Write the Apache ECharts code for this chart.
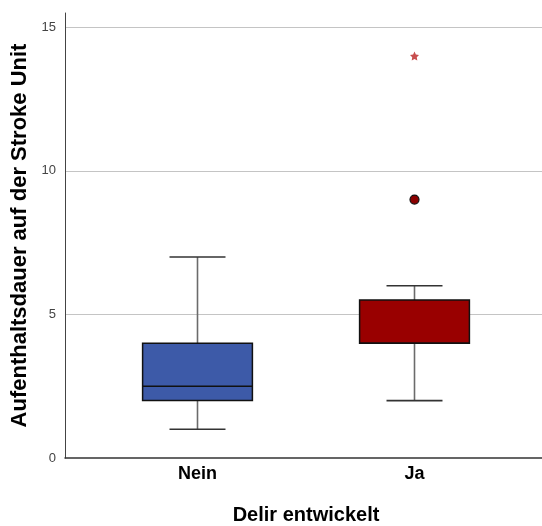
<!DOCTYPE html>
<html>
<head>
<meta charset="utf-8">
<script src="https://cdn.jsdelivr.net/npm/echarts@6/dist/echarts.min.js"></script>
<style>
  html, body { margin: 0; padding: 0; background: #fff; }
  #chart { width: 542px; height: 526px; }
</style>
</head>
<body>
<div id="chart"></div>
<script>
// Boxplot data
const categories = ['Nein', 'Ja'];
const whiskerLow = [1, 2];
const quartile1 = [2, 4];
const medians = [2.5, 4];
const quartile3 = [4, 5.5];
const whiskerHigh = [7, 6];
const outliers = [[1, 9]];     // circle
const extremes = [[1, 14]];    // star
const yTicks = [0, 5, 10, 15];

const boxColors = ['#3d5aa8', '#990000'];
const font = '"Liberation Sans", Arial, sans-serif';
const starPath = 'path://M0,-10 L2.9,-4 9.5,-3.1 4.8,1.5 5.9,8.1 0,5 -5.9,8.1 -4.8,1.5 -9.5,-3.1 -2.9,-4 Z';

const boxData = categories.map((c, i) =>
  [i, whiskerLow[i], quartile1[i], medians[i], quartile3[i], whiskerHigh[i]]);

const chart = echarts.init(document.getElementById('chart'));

function renderBox(params, api) {
  const idx = api.value(0);
  const band = api.size([1, 0])[0];
  const lo = api.coord([idx, api.value(1)]);
  const q1 = api.coord([idx, api.value(2)]);
  const med = api.coord([idx, api.value(3)]);
  const q3 = api.coord([idx, api.value(4)]);
  const hi = api.coord([idx, api.value(5)]);
  const x = lo[0];
  const boxHalf = band * 0.253;
  const capHalf = band * 0.129;
  const stem = { stroke: '#6b6b6b', lineWidth: 1.6 };
  const cap = { stroke: '#333', lineWidth: 1.6 };
  return {
    type: 'group',
    children: [
      { type: 'line', shape: { x1: x, y1: hi[1], x2: x, y2: q3[1] }, style: stem },
      { type: 'line', shape: { x1: x, y1: q1[1], x2: x, y2: lo[1] }, style: stem },
      { type: 'line', shape: { x1: x - capHalf, y1: hi[1], x2: x + capHalf, y2: hi[1] }, style: cap },
      { type: 'line', shape: { x1: x - capHalf, y1: lo[1], x2: x + capHalf, y2: lo[1] }, style: cap },
      {
        type: 'rect',
        shape: { x: x - boxHalf, y: q3[1], width: boxHalf * 2, height: q1[1] - q3[1] },
        style: { fill: boxColors[params.dataIndex], stroke: '#111', lineWidth: 1.5 }
      },
      { type: 'line', shape: { x1: x - boxHalf, y1: med[1], x2: x + boxHalf, y2: med[1] },
        style: { stroke: '#111', lineWidth: 1.5 } }
    ]
  };
}

chart.setOption({
  animation: false,
  backgroundColor: '#fff',
  grid: [
    { left: 65, right: 0, top: 13, bottom: 68, outerBoundsMode: 'none' },
    { left: 89, right: 19, top: 13, bottom: 68, outerBoundsMode: 'none' }
  ],
  xAxis: [
    {
      gridIndex: 0, type: 'value', min: 0, max: 1,
      axisLine: { lineStyle: { color: '#333', width: 1.5 } },
      axisTick: { show: false }, axisLabel: { show: false }, splitLine: { show: false }
    },
    {
      gridIndex: 1, type: 'category', data: categories,
      axisLine: { show: false }, axisTick: { show: false },
      axisLabel: { margin: 7, color: '#000', fontSize: 18, fontWeight: 'bold', fontFamily: font },
      name: 'Delir entwickelt', nameLocation: 'middle', nameGap: 47,
      nameTextStyle: { color: '#000', fontSize: 20, fontWeight: 'bold', fontFamily: font }
    }
  ],
  yAxis: [
    {
      gridIndex: 0, type: 'value', min: 0, max: 15.5, interval: 5,
      axisLine: { show: true, lineStyle: { color: '#444', width: 1 } },
      axisTick: { show: false },
      axisLabel: {
        margin: 9, color: '#444', fontSize: 13, fontFamily: font, showMaxLabel: false,
        formatter: v => (yTicks.indexOf(v) >= 0 ? String(v) : '')
      },
      splitLine: { show: true, showMinLine: false, showMaxLine: false, lineStyle: { color: '#c4c4c4', width: 1 } },
      name: 'Aufenthaltsdauer auf der Stroke Unit', nameLocation: 'middle', nameGap: 33,
      nameTextStyle: { color: '#000', fontSize: 22, fontWeight: 'bold', fontFamily: font }
    },
    {
      gridIndex: 1, type: 'value', min: 0, max: 15.5, show: false
    }
  ],
  series: [
    {
      type: 'custom', xAxisIndex: 1, yAxisIndex: 1,
      data: boxData,
      encode: { x: 0, y: [1, 2, 3, 4, 5] },
      renderItem: renderBox
    },
    {
      type: 'scatter', xAxisIndex: 1, yAxisIndex: 1,
      data: outliers, symbol: 'circle', symbolSize: 9,
      itemStyle: { color: '#8b0000', borderColor: '#111', borderWidth: 1.2, opacity: 1 }
    },
    {
      type: 'scatter', xAxisIndex: 1, yAxisIndex: 1,
      data: extremes, symbol: starPath, symbolSize: 9,
      itemStyle: { color: '#c84f4f', opacity: 1 }
    }
  ]
});
</script>
</body>
</html>
